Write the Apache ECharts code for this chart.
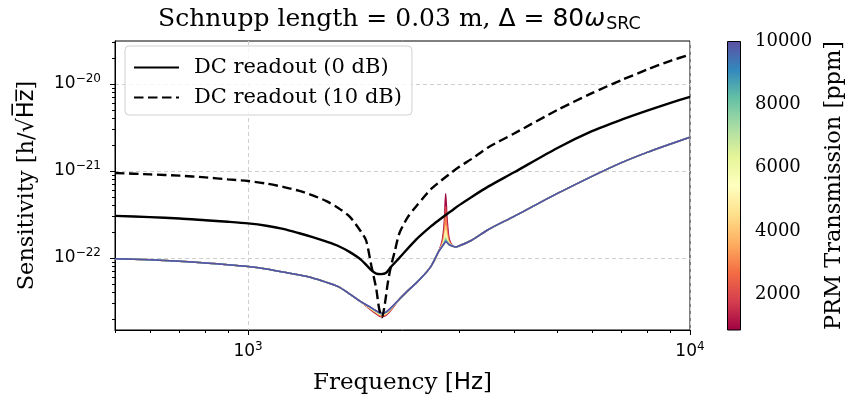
<!DOCTYPE html>
<html>
<head>
<meta charset="utf-8">
<title>Schnupp length sensitivity</title>
<script src="https://cdn.jsdelivr.net/npm/echarts@6/dist/echarts.min.js"></script>
<style>
  html, body { margin: 0; padding: 0; background: #fff; }
  #chart { width: 854px; height: 407px; }
</style>
</head>
<body>
<div id="chart"></div>
<script>
// --- data (frequency in Hz, sensitivity in h/sqrt(Hz)) ---
const freq0dB = [500, 600, 700, 800, 900, 1000, 1100, 1200, 1300, 1400, 1500, 1600, 1700, 1800, 1900,
  1950, 2000, 2050, 2100, 2200, 2400, 2600, 2700, 2800, 2900, 3000, 3200, 3500, 4000, 5000, 6000, 7000,
  8000, 9000, 10000];
const dcReadout0dB = [3.05e-22, 2.95e-22, 2.85e-22, 2.72e-22, 2.61e-22, 2.50e-22, 2.35e-22, 2.16e-22,
  1.94e-22, 1.74e-22, 1.55e-22, 1.375e-22, 1.17e-22, 9.61e-23, 7.27e-23, 6.63e-23, 6.54e-23, 6.72e-23,
  7.77e-23, 1.005e-22, 1.63e-22, 2.34e-22, 2.72e-22, 3.13e-22, 3.55e-22, 4.03e-22, 5.01e-22, 6.66e-22,
  9.67e-22, 1.83e-21, 2.87e-21, 3.89e-21, 4.94e-21, 6.03e-21, 7.12e-21];

const freq10dB = [500, 600, 700, 800, 900, 1000, 1100, 1200, 1300, 1400, 1500, 1600, 1700, 1800, 1850,
  1900, 1950, 1980, 2010, 2040, 2070, 2100, 2150, 2200, 2300, 2400, 2500, 2600, 2800, 3000, 3200, 3500,
  4000, 5000, 6000, 7000, 8000, 9000, 10000];
const dcReadout10dB = [9.48e-22, 9.16e-22, 8.85e-22, 8.46e-22, 8.02e-22, 7.67e-22, 7.18e-22, 6.58e-22,
  5.95e-22, 5.25e-22, 4.54e-22, 3.77e-22, 2.97e-22, 2.02e-22, 1.59e-22, 8.26e-23, 4.45e-23, 2.62e-23,
  2.09e-23, 2.99e-23, 5.08e-23, 7.57e-23, 1.22e-22, 1.93e-22, 2.97e-22, 3.92e-22, 5.02e-22, 6.27e-22,
  8.53e-22, 1.11e-21, 1.37e-21, 1.88e-21, 2.70e-21, 5.00e-21, 7.85e-21, 1.11e-20, 1.465e-20, 1.835e-20,
  2.18e-20];

// PRM transmission family: shared curve (10000 ppm) plus per-curve values at the dip and the peak
const freqPrm = [500, 600, 700, 800, 900, 1000, 1100, 1200, 1300, 1400, 1500, 1600, 1700, 1800, 1900,
  1950, 2000, 2050, 2100, 2200, 2300, 2400, 2500, 2600, 2700, 2750, 2780, 2800, 2820, 2850, 2900, 2950,
  3000, 3200, 3500, 4000, 5000, 6000, 7000, 8000, 9000, 10000];
const prmShared = [9.79e-23, 9.53e-23, 9.19e-23, 8.80e-23, 8.35e-23, 7.98e-23, 7.47e-23, 6.90e-23,
  6.41e-23, 5.91e-23, 5.29e-23, 4.69e-23, 3.85e-23, 3.15e-23, 2.69e-23, 2.48e-23, 2.32e-23, 2.39e-23,
  2.65e-23, 3.37e-23, 4.22e-23, 5.15e-23, 6.37e-23, 8.20e-23, 1.19e-22, 1.36e-22, 1.47e-22, 1.53e-22,
  1.51e-22, 1.43e-22, 1.375e-22, 1.34e-22, 1.375e-22, 1.59e-22, 2.13e-22, 3.01e-22, 5.49e-22, 8.69e-22,
  1.25e-21, 1.64e-21, 2.03e-21, 2.44e-21];
const prmPpm = [1000, 2000, 3000, 4000, 5000, 6000, 7000, 8000, 9000, 10000];

const dipFreq = [1900, 1950, 2000, 2050, 2100];
const prmDip = [
  [2.52e-23, 2.29e-23, 2.12e-23, 2.20e-23, 2.48e-23],
  [2.55e-23, 2.32e-23, 2.15e-23, 2.23e-23, 2.52e-23],
  [2.58e-23, 2.36e-23, 2.18e-23, 2.26e-23, 2.55e-23],
  [2.60e-23, 2.38e-23, 2.21e-23, 2.29e-23, 2.57e-23],
  [2.62e-23, 2.41e-23, 2.23e-23, 2.31e-23, 2.59e-23],
  [2.64e-23, 2.43e-23, 2.26e-23, 2.34e-23, 2.61e-23],
  [2.66e-23, 2.45e-23, 2.28e-23, 2.36e-23, 2.62e-23],
  [2.67e-23, 2.46e-23, 2.30e-23, 2.37e-23, 2.63e-23],
  [2.68e-23, 2.47e-23, 2.31e-23, 2.38e-23, 2.64e-23],
  [2.69e-23, 2.48e-23, 2.32e-23, 2.39e-23, 2.65e-23]
];

const peakFreq = [2750, 2780, 2800, 2820, 2850];
const prmPeak = [
  [1.59e-22, 2.56e-22, 5.53e-22, 2.85e-22, 1.68e-22],
  [1.51e-22, 2.13e-22, 3.92e-22, 2.31e-22, 1.59e-22],
  [1.45e-22, 1.87e-22, 2.93e-22, 1.97e-22, 1.53e-22],
  [1.41e-22, 1.72e-22, 2.37e-22, 1.79e-22, 1.49e-22],
  [1.39e-22, 1.63e-22, 2.07e-22, 1.68e-22, 1.47e-22],
  [1.375e-22, 1.57e-22, 1.87e-22, 1.59e-22, 1.45e-22],
  [1.36e-22, 1.53e-22, 1.72e-22, 1.55e-22, 1.45e-22],
  [1.36e-22, 1.49e-22, 1.63e-22, 1.53e-22, 1.43e-22],
  [1.36e-22, 1.47e-22, 1.57e-22, 1.51e-22, 1.43e-22],
  [1.36e-22, 1.47e-22, 1.53e-22, 1.51e-22, 1.43e-22]
];

// axes
const xRange = [500, 10000];
const yRange = [1.49e-23, 3.12e-20];
const xMajor = [1000, 10000];
const yMajor = [1e-22, 1e-21, 1e-20];
const cbRange = [870, 10000];
const cbTicks = [2000, 4000, 6000, 8000, 10000];

// matplotlib "Spectral"
const spectral = ['#9e0142', '#d53e4f', '#f46d43', '#fdae61', '#fee08b', '#ffffbf',
  '#e6f598', '#abdda4', '#66c2a5', '#3288bd', '#5e4fa2'];

const SERIF = 'DejaVu Serif';
const SANS = 'DejaVu Sans';
const lg = Math.log10;

function hexToRgb(h) {
  return [1, 3, 5].map(i => parseInt(h.substr(i, 2), 16));
}
function spectralAt(t) {
  t = Math.max(0, Math.min(1, t));
  const p = t * (spectral.length - 1);
  const i = Math.min(Math.floor(p), spectral.length - 2);
  const f = p - i;
  const a = hexToRgb(spectral[i]), b = hexToRgb(spectral[i + 1]);
  const c = a.map((v, k) => Math.round(v + (b[k] - v) * f));
  return 'rgb(' + c.join(',') + ')';
}

function minorTicks(lo, hi) {
  const out = [];
  for (let e = Math.floor(lg(lo)); e <= Math.ceil(lg(hi)); e++) {
    for (let m = 2; m <= 9; m++) {
      const v = m * Math.pow(10, e);
      if (v >= lo * 0.999 && v <= hi * 1.001) out.push(lg(v));
    }
  }
  return out;
}

const powRich = {
  b: { fontFamily: SANS, fontSize: 17, color: '#000' },
  s: { fontFamily: SANS, fontSize: 12, color: '#000', padding: [0, 0, 10, 0] }
};
const powLabel = v => '{b|10}{s|' + String(Math.round(v)).replace('-', '\u2212') + '}';

const prmSeries = prmPpm.map((ppm, k) => ({
  type: 'line',
  name: 'PRM ' + ppm,
  xAxisIndex: 0,
  yAxisIndex: 0,
  symbol: 'none',
  smooth: 0.25,
  silent: true,
  lineStyle: { width: 1.5, color: spectralAt((ppm - cbRange[0]) / (cbRange[1] - cbRange[0])) },
  data: freqPrm.map((f, i) => {
    let v = prmShared[i];
    const d = dipFreq.indexOf(f);
    const p = peakFreq.indexOf(f);
    if (d >= 0) v = prmDip[k][d];
    if (p >= 0) v = prmPeak[k][p];
    return [lg(f), lg(v)];
  })
}));

const chart = echarts.init(document.getElementById('chart'));

chart.setOption({
  animation: false,
  backgroundColor: '#fff',
  title: {
    text: '{t|Schnupp length = 0.03 m, }{m|\u0394 = 80}{w|\u03c9}{sub|SRC}',
    left: 158,
    top: 5,
    padding: 0,
    textStyle: {
      fontWeight: 'normal',
      rich: {
        t: { fontFamily: SERIF, fontSize: 25, fontWeight: 'normal', color: '#000' },
        m: { fontFamily: SANS, fontSize: 25, fontWeight: 'normal', color: '#000' },
        w: { fontFamily: SANS, fontSize: 25, fontWeight: 'normal', fontStyle: 'italic', color: '#000' },
        sub: { fontFamily: SANS, fontSize: 17.5, fontWeight: 'normal', color: '#000', padding: [10, 0, 0, 1] }
      }
    }
  },
  legend: {
    data: ['DC readout (0 dB)', 'DC readout (10 dB)'],
    orient: 'vertical',
    left: 125,
    top: 46,
    padding: [11, 10, 7, 8],
    itemGap: 9,
    itemWidth: 45,
    itemHeight: 20,
    backgroundColor: 'rgba(255,255,255,0.8)',
    borderColor: '#d0d0d0',
    borderWidth: 1,
    borderRadius: 4,
    itemStyle: { color: 'rgba(0,0,0,0)', borderWidth: 0 },
    textStyle: { fontFamily: SERIF, fontSize: 21, color: '#000', padding: [0, 0, 0, 10] }
  },
  grid: [
    { left: 115, top: 41, width: 575, height: 289, show: true, borderColor: '#000', borderWidth: 1 },
    { left: 115, top: 41, width: 575, height: 289, show: false },
    { left: 727, top: 41, width: 14, height: 289, show: false }
  ],
  xAxis: [
    {
      gridIndex: 0,
      type: 'value',
      min: lg(xRange[0]),
      max: lg(xRange[1]),
      axisLine: { show: true, lineStyle: { color: '#000', width: 1 } },
      axisTick: { customValues: xMajor.map(lg), length: 5, lineStyle: { color: '#000', width: 1 } },
      axisLabel: { customValues: xMajor.map(lg), formatter: powLabel, rich: powRich, margin: 11 },
      splitLine: { show: true, lineStyle: { color: '#cfcfcf', type: [4, 3], width: 1 } },
      name: '{t|Frequency [}{h|Hz}{t|]}',
      nameLocation: 'middle',
      nameGap: 42,
      nameTextStyle: {
        rich: {
          t: { fontFamily: SERIF, fontSize: 23, color: '#000' },
          h: { fontFamily: SANS, fontSize: 23, color: '#000' }
        }
      }
    },
    {
      gridIndex: 1,
      type: 'value',
      min: lg(xRange[0]),
      max: lg(xRange[1]),
      axisLine: { show: false },
      axisTick: { customValues: minorTicks(xRange[0], xRange[1]), length: 3, lineStyle: { color: '#000', width: 1 } },
      axisLabel: { show: false },
      splitLine: { show: false }
    },
    { gridIndex: 2, type: 'category', data: ['cb'], show: false }
  ],
  yAxis: [
    {
      gridIndex: 0,
      type: 'value',
      min: lg(yRange[0]),
      max: lg(yRange[1]),
      axisLine: { show: true, lineStyle: { color: '#000', width: 1 } },
      axisTick: { customValues: yMajor.map(lg), length: 5, lineStyle: { color: '#000', width: 1 } },
      axisLabel: { customValues: yMajor.map(lg), formatter: powLabel, rich: powRich, margin: 14 },
      splitLine: { show: true, lineStyle: { color: '#cfcfcf', type: [4, 3], width: 1 } },
      name: '{t|Sensitivity [h/\u221a}{h|H\u0305z\u0305}{t|]}',
      nameLocation: 'middle',
      nameGap: 76,
      nameTextStyle: {
        rich: {
          t: { fontFamily: SERIF, fontSize: 22.5, color: '#000' },
          h: { fontFamily: SANS, fontSize: 22.5, color: '#000' }
        }
      }
    },
    {
      gridIndex: 1,
      type: 'value',
      min: lg(yRange[0]),
      max: lg(yRange[1]),
      axisLine: { show: false },
      axisTick: { customValues: minorTicks(yRange[0], yRange[1]), length: 3, lineStyle: { color: '#000', width: 1 } },
      axisLabel: { show: false },
      splitLine: { show: false }
    },
    {
      gridIndex: 2,
      type: 'value',
      position: 'right',
      min: cbRange[0],
      max: cbRange[1],
      axisLine: { show: false },
      axisTick: { customValues: cbTicks, length: 5, lineStyle: { color: '#000', width: 1 } },
      axisLabel: {
        customValues: cbTicks, formatter: v => String(v),
        fontFamily: SERIF, fontSize: 18, color: '#000', margin: 14
      },
      splitLine: { show: false },
      name: 'PRM Transmission [ppm]',
      nameLocation: 'middle',
      nameRotate: 90,
      nameGap: 82,
      nameTextStyle: { fontFamily: SERIF, fontSize: 22.5, color: '#000' }
    }
  ],
  series: [
    ...prmSeries,
    {
      type: 'line',
      name: 'DC readout (0 dB)',
      xAxisIndex: 0,
      yAxisIndex: 0,
      symbol: 'none',
      smooth: 0.25,
      lineStyle: { color: '#000', width: 2.4 },
      itemStyle: { color: '#000' },
      data: freq0dB.map((f, i) => [lg(f), lg(dcReadout0dB[i])])
    },
    {
      type: 'line',
      name: 'DC readout (10 dB)',
      xAxisIndex: 0,
      yAxisIndex: 0,
      symbol: 'none',
      smooth: 0.25,
      lineStyle: { color: '#000', width: 2.4, type: [9.5, 4.5] },
      itemStyle: { color: '#000' },
      data: freq10dB.map((f, i) => [lg(f), lg(dcReadout10dB[i])])
    },
    {
      type: 'bar',
      name: 'colorbar',
      xAxisIndex: 2,
      yAxisIndex: 2,
      silent: true,
      barWidth: '100%',
      data: [cbRange[1]],
      itemStyle: {
        borderColor: '#000',
        borderWidth: 1,
        color: new echarts.graphic.LinearGradient(0, 1, 0, 0,
          spectral.map((c, i) => ({ offset: i / (spectral.length - 1), color: c })))
      }
    }
  ]
});
</script>
</body>
</html>
